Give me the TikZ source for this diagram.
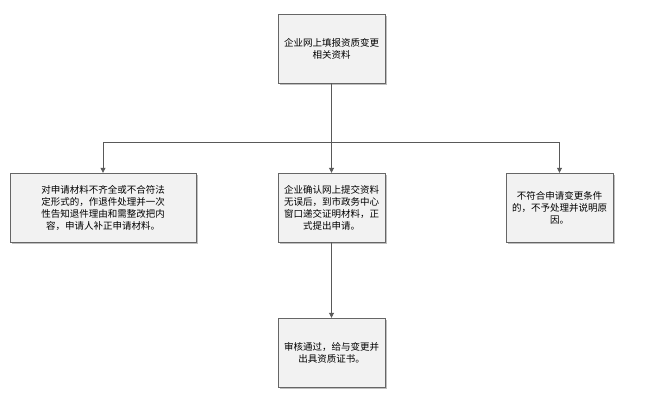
\documentclass[tikz,border=0pt]{standalone}
\usepackage{fontspec}
\newfontfamily\cjk{Noto Sans CJK SC}
\usetikzlibrary{arrows.meta,shadows}
\begin{document}
\begin{tikzpicture}[x=1pt,y=-1pt,
  box/.style={draw=gray!80!black,fill=black!5,drop shadow={shadow xshift=2pt,shadow yshift=-2pt,fill=black!25,opacity=1},
    minimum height=69pt,align=center,font=\cjk\fontsize{9.5}{12}\selectfont,inner sep=3pt},
  ln/.style={draw=gray!70!black,line width=0.8pt},
  arr/.style={ln,-{Triangle[length=5pt,width=5pt]}}]
\useasboundingbox (0,0) rectangle (663,410);
\node[box,minimum width=107pt,text width=100pt] (top) at (331.5,48.5) {企业网上填报资质变更\\相关资料};
\node[box,minimum width=186pt,text width=175pt] (l) at (103,207.5) {对申请材料不齐全或不合符法\\定形式的，作退件处理并一次\\性告知退件理由和需整改把内\\容，申请人补正申请材料。};
\node[box,minimum width=107pt,text width=100pt] (m) at (331.5,207.5) {企业确认网上提交资料\\无误后，到市政务中心\\窗口递交证明材料，正\\式提出申请。};
\node[box,minimum width=107pt,text width=100pt] (r) at (559.5,207.5) {不符合申请变更条件\\的，不予处理并说明原\\因。};
\node[box,minimum width=107pt,text width=100pt] (b) at (331.5,352.5) {审核通过，给与变更并\\出具资质证书。};
\coordinate (j) at (331.5,142);
\coordinate (jl) at (103,142);
\coordinate (jr) at (559.5,142);
\draw[ln] (top.south) -- (j);
\draw[ln] (jl) -- (jr);
\draw[arr] (jl) -- (l.north);
\draw[arr] (j) -- (m.north);
\draw[arr] (jr) -- (r.north);
\draw[arr] (m.south) -- (b.north);
\end{tikzpicture}
\end{document}
